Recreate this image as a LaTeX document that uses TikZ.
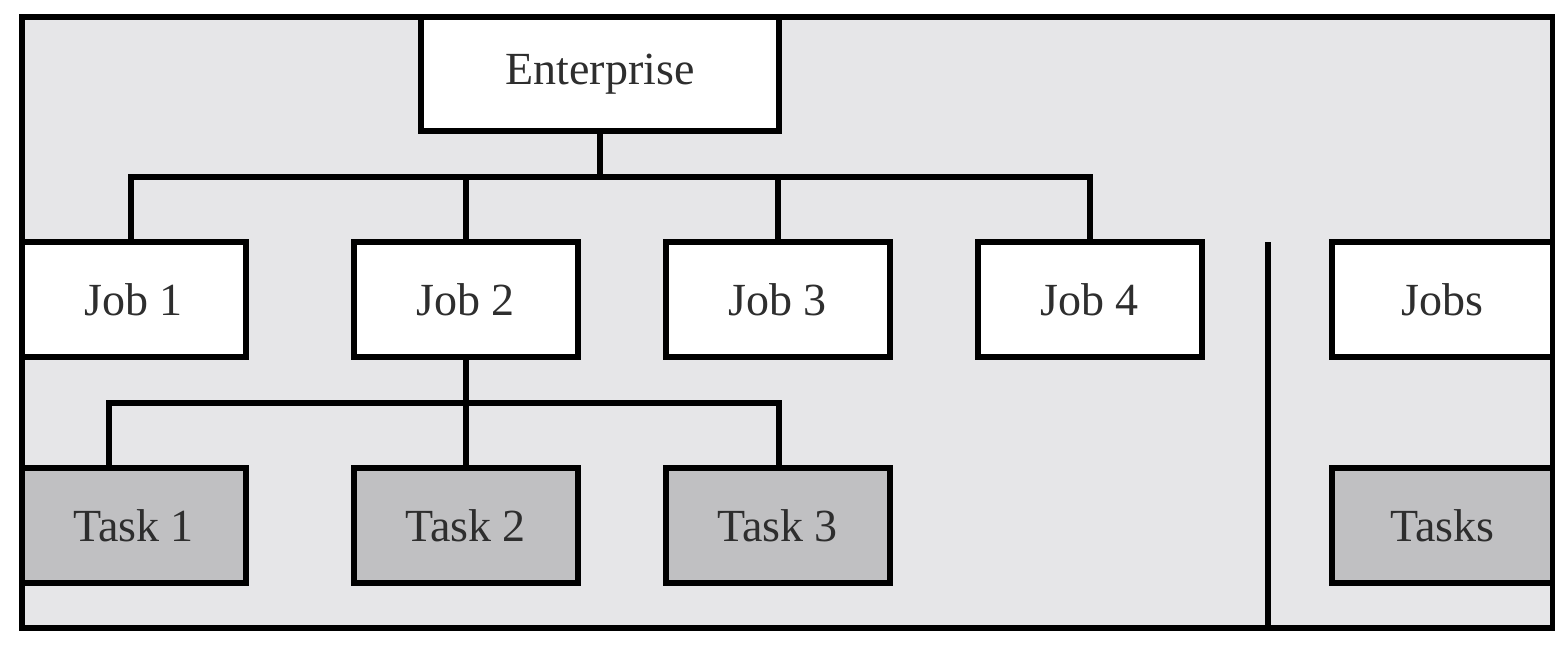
\documentclass[tikz,border=0pt]{standalone}
\usepackage{fontspec}
\setmainfont{Liberation Serif}
\definecolor{panel}{HTML}{E6E6E8}
\definecolor{taskgray}{HTML}{C0C0C2}
\definecolor{ink}{HTML}{2E2E2E}
\tikzset{
	box/.style={draw=black, line width=6pt, fill=white, inner sep=0pt,
		minimum width=224pt, minimum height=115pt, text=ink,
		font=\fontsize{46}{55}\selectfont},
	taskbox/.style={box, fill=taskgray},
	wire/.style={line width=6pt}
}
\begin{document}
\begin{tikzpicture}[x=1pt,y=-1pt]
				\useasboundingbox (0,0) rectangle (1555,646);
				\draw[fill=panel, line width=6pt] (22,17) rectangle (1553,628);
				\node[box, minimum width=358pt, minimum height=114pt] (ent) at (600,74) {Enterprise};
				\node[box] (job1) at (133.5,299.5) {Job 1};
				\node[box] (job2) at (465.5,299.5) {Job 2};
				\node[box] (job3) at (777.5,299.5) {Job 3};
				\node[box] (job4) at (1089.5,299.5) {Job 4};
				\node[box, minimum width=221pt] (jobs) at (1442.5,299.5) {Jobs};
				\node[taskbox] (task1) at (133.5,525.5) {Task 1};
				\node[taskbox] (task2) at (465.5,525.5) {Task 2};
				\node[taskbox] (task3) at (777.5,525.5) {Task 3};
				\node[taskbox, minimum width=221pt] (tasks) at (1442.5,525.5) {Tasks};
				\coordinate (jbus) at (600,177);
				\coordinate (tbus) at (465.5,403);
				\draw[wire] (ent.south) -- (jbus);
				\draw[wire] ([xshift=-3pt]job1.north) |- (jbus) -| (job4.north);
				\draw[wire] (job2.north) -- (job2.north |- jbus);
				\draw[wire] (job3.north) -- (job3.north |- jbus);
				\draw[wire] (job2.south) -- (tbus);
				\draw[wire] ([xshift=-25pt]task1.north) |- (tbus) -| ([xshift=1.5pt]task3.north);
				\draw[wire] (task2.north) -- (tbus);
				\draw[wire] (1268,242) -- (1268,628);
			\end{tikzpicture}
\end{document}
